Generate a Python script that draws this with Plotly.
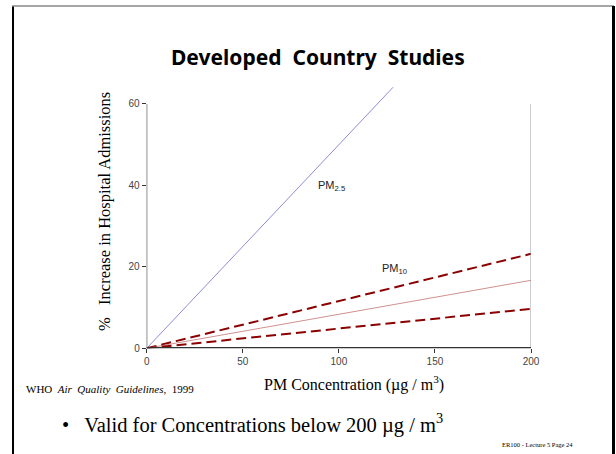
import plotly.graph_objects as go

# Data
conc = [0, 200]
pm25 = [0, 100]
pm10_upper = [0, 23.2]
pm10_central = [0, 16.7]
pm10_lower = [0, 9.7]
x_ticks = [0, 50, 100, 150, 200]
y_ticks = [0, 20, 40, 60]

W, H = 616, 454
def px(x):
    return x / W
def py(y):
    return 1 - y / H

fig = go.Figure()
fig.add_trace(go.Scatter(x=conc, y=pm25, mode="lines",
                         line=dict(color="#7070c8", width=0.8), showlegend=False))
fig.add_trace(go.Scatter(x=conc, y=pm10_upper, mode="lines",
                         line=dict(color="#8b0000", width=2, dash="10px,5px"), showlegend=False))
fig.add_trace(go.Scatter(x=conc, y=pm10_central, mode="lines",
                         line=dict(color="#d09090", width=1), showlegend=False))
fig.add_trace(go.Scatter(x=conc, y=pm10_lower, mode="lines",
                         line=dict(color="#8b0000", width=2, dash="10px,5px"), showlegend=False))

tickfont = dict(family="Liberation Sans, Arial", size=10, color="#444")
fig.update_xaxes(range=[0, 200], tickvals=x_ticks, ticks="outside", ticklen=4,
                 tickcolor="#333", showgrid=False, zeroline=False, showline=False,
                 automargin=False,
                 tickfont=tickfont, domain=[px(146.7), px(531)], fixedrange=True)
fig.update_yaxes(range=[0, 64.1], tickvals=y_ticks, ticks="outside", ticklen=4,
                 tickcolor="#333", showgrid=False, zeroline=False, showline=False,
                 automargin=False,
                 tickfont=tickfont, domain=[py(348.3), py(87.3)], fixedrange=True)

shapes = [
    # spines
    dict(type="line", xref="x", yref="y", x0=0, x1=0, y0=0, y1=60,
         line=dict(color="#000", width=1)),
    dict(type="line", xref="x", yref="y", x0=200, x1=200, y0=0, y1=60,
         line=dict(color="#999", width=1)),
    dict(type="line", xref="x", yref="y", x0=0, x1=200, y0=0, y1=0,
         line=dict(color="#333", width=2.5)),
    # slide border
    dict(type="line", xref="paper", yref="paper", x0=px(13), x1=px(13), y0=0, y1=py(6),
         line=dict(color="#000", width=2)),
    dict(type="line", xref="paper", yref="paper", x0=px(12), x1=px(614), y0=py(6), y1=py(6),
         line=dict(color="#888", width=1.5)),
    dict(type="line", xref="paper", yref="paper", x0=px(613.5), x1=px(613.5), y0=0, y1=py(6),
         line=dict(color="#000", width=3)),
]

serif = "Liberation Serif, Times New Roman"
annotations = [
    dict(text="<b>Developed  Country  Studies</b>", x=px(317.5), y=py(57), xref="paper", yref="paper",
         showarrow=False, font=dict(family="Noto Sans, DejaVu Sans", size=21, color="#000"),
         xanchor="center", yanchor="middle"),
    dict(text="%   Increase in Hospital Admissions", x=px(104), y=py(212), xref="paper", yref="paper",
         showarrow=False, textangle=-90, font=dict(family=serif, size=16.5, color="#000"),
         xanchor="center", yanchor="middle"),
    dict(text="PM Concentration (µg / m<sup>3</sup>)", x=px(354), y=py(383), xref="paper", yref="paper",
         showarrow=False, font=dict(family=serif, size=16, color="#000"),
         xanchor="center", yanchor="middle"),
    dict(text="WHO  <i>Air  Quality  Guidelines</i>,  1999", x=px(24), y=py(389), xref="paper", yref="paper",
         showarrow=False, font=dict(family=serif, size=11, color="#000"),
         xanchor="left", yanchor="middle"),
    dict(text="•   Valid for Concentrations below 200 µg / m<sup>3</sup>", x=px(60), y=py(423),
         xref="paper", yref="paper", showarrow=False,
         font=dict(family=serif, size=20.5, color="#000"), xanchor="left", yanchor="middle"),
    dict(text="ER100 - Lecture 5 Page 24", x=px(575), y=py(444), xref="paper", yref="paper",
         showarrow=False, font=dict(family=serif, size=6.5, color="#000"),
         xanchor="right", yanchor="middle"),
    dict(text="PM<sub>2.5</sub>", x=96.4, y=39.9, xref="x", yref="y", showarrow=False,
         font=dict(family="Liberation Sans, Arial", size=11, color="#222")),
    dict(text="PM<sub>10</sub>", x=128.7, y=19.4, xref="x", yref="y", showarrow=False,
         font=dict(family="Liberation Sans, Arial", size=11, color="#222")),
]

fig.update_layout(width=W, height=H, margin=dict(l=0, r=0, t=0, b=0, autoexpand=False),
                  paper_bgcolor="white", plot_bgcolor="white",
                  shapes=shapes, annotations=annotations, showlegend=False)

fig.write_html("out.html", config={"displayModeBar": False},
               post_script=("var s=document.createElement('style');"
                            "s.textContent='html,body{margin:0!important;padding:0!important;"
                            "overflow:hidden!important;width:616px;height:454px;}';"
                            "document.head.appendChild(s);"))
